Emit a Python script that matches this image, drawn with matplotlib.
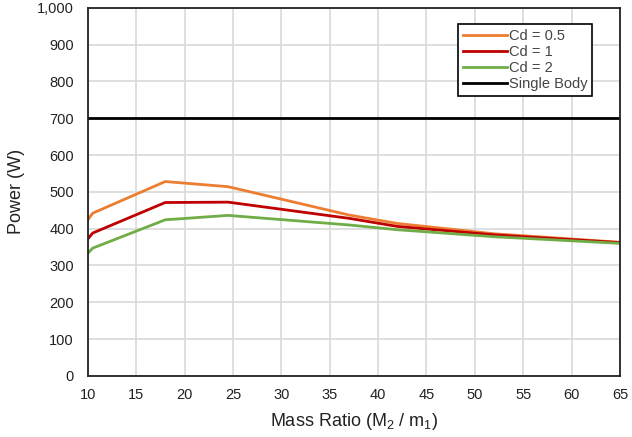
import matplotlib
matplotlib.use("Agg")
import matplotlib.pyplot as plt
from matplotlib.ticker import FuncFormatter

mass_ratio = [10, 10.5, 18, 24.5, 37, 42, 52, 65]
cd_05 = [424, 442, 528, 514, 437, 414, 386, 363]
cd_1 = [372, 388, 471, 472, 428, 406, 383, 362]
cd_2 = [333, 347, 424, 436, 410, 397, 378, 360]
single_body_x = [10, 65]
single_body = [700, 700]


def main():
  plt.rcParams["font.family"] = ["Liberation Sans", "DejaVu Sans"]
  plt.rcParams["mathtext.default"] = "regular"

  figure = plt.figure(figsize=(6.32, 4.37), dpi=100)
  axes = figure.add_axes([0.139, 0.14, 0.842, 0.842])

  axes.plot(mass_ratio, cd_05, label="Cd = 0.5", color="#ED7D31", lw=2)
  axes.plot(mass_ratio, cd_1, label="Cd = 1", color="#C00000", lw=2)
  axes.plot(mass_ratio, cd_2, label="Cd = 2", color="#70AD47", lw=2)
  axes.plot(single_body_x, single_body, label="Single Body", color="black", lw=2)

  axes.set_xlim(10, 65)
  axes.set_ylim(0, 1000)
  axes.set_xticks(range(10, 66, 5))
  axes.set_yticks(range(0, 1001, 100))
  axes.yaxis.set_major_formatter(FuncFormatter(lambda v, p: f"{int(v):,}"))
  axes.tick_params(length=0, labelsize=10.5, colors="#222222")
  axes.tick_params(axis="y", pad=10)
  axes.tick_params(axis="x", pad=9)
  axes.grid(True, color="#d9d9d9", lw=1.2)
  axes.set_axisbelow(True)
  for spine in axes.spines.values():
    spine.set_color("#222222")
    spine.set_linewidth(1.3)

  axes.set_xlabel("Mass Ratio (M$_2$ / m$_1$)", fontsize=13, color="#222222", labelpad=6)
  axes.set_ylabel("Power (W)", fontsize=13, color="#222222", labelpad=9)

  legend = axes.legend(loc="upper right", bbox_to_anchor=(0.962, 0.975), fontsize=10.5,
                       fancybox=False, framealpha=1, edgecolor="black",
                       handlelength=3, handletextpad=0.2, borderpad=0.3, labelspacing=0.15)
  legend.get_frame().set_linewidth(1.2)
  for text in legend.get_texts():
    text.set_color("#444444")

  figure.savefig("out.png", dpi=100)
  plt.close(figure)


if __name__ == "__main__":
  main()
